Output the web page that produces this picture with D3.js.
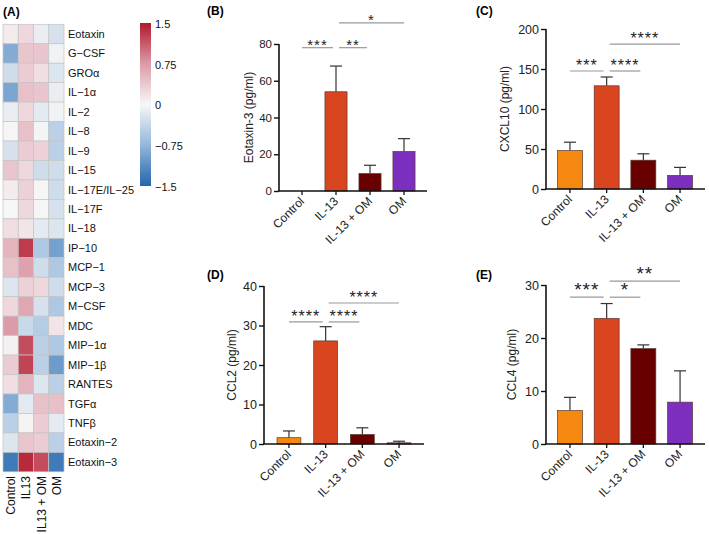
<!DOCTYPE html>
<html><head><meta charset="utf-8">
<script src="https://cdn.jsdelivr.net/npm/d3@7"></script>
<style>body{margin:0;background:#fff}svg{display:block;font-family:"Liberation Sans",Arial,sans-serif}</style>
</head><body><svg id="c" width="709" height="534"></svg>
<script>
// ---------- data ----------
const heatCols = ["Control", "IL13", "IL13 + OM", "OM"];
const heatRows = ["Eotaxin","G\u2212CSF","GRO\u03b1","IL\u22121\u03b1","IL\u22122","IL\u22128","IL\u22129","IL\u221215","IL\u221217E/IL\u221225","IL\u221217F","IL\u221218","IP\u221210","MCP\u22121","MCP\u22123","M\u2212CSF","MDC","MIP\u22121\u03b1","MIP\u22121\u03b2","RANTES","TGF\u03b1","TNF\u03b2","Eotaxin\u22122","Eotaxin\u22123"];
const heatValues = [
  [0.10, 0.25, -0.10, -0.25],
  [-0.85, 0.40, 0.40, -0.05],
  [-0.30, 0.35, 0.20, -0.20],
  [-0.90, 0.45, 0.40, -0.10],
  [-0.10, 0.25, -0.15, -0.05],
  [0.02, 0.45, -0.03, -0.45],
  [-0.25, 0.35, 0.30, -0.45],
  [0.40, 0.25, -0.30, -0.30],
  [0.10, 0.30, 0.02, -0.30],
  [0.00, 0.25, 0.02, -0.25],
  [0.20, 0.15, -0.15, -0.20],
  [0.55, 1.30, -0.55, -0.95],
  [0.45, 0.70, -0.30, -0.55],
  [-0.20, 0.30, 0.25, -0.30],
  [0.25, 0.65, -0.25, -0.55],
  [0.75, -0.35, -0.50, 0.15],
  [0.05, 1.20, -0.45, -0.55],
  [0.35, 1.25, -0.45, -1.00],
  [0.20, 0.55, -0.20, -0.45],
  [-0.85, -0.15, 0.45, 0.45],
  [-0.45, 0.03, 0.35, -0.15],
  [-0.20, 0.40, 0.35, -0.45],
  [-1.30, 1.40, 1.20, -1.30]
];
const legendTicks = [1.5, 0.75, 0, -0.75, -1.5];

const categories = ["Control", "IL-13", "IL-13 + OM", "OM"];
const barColors = ["#f5880f", "#d8451f", "#680000", "#7c2fbf"];

const eotaxin3Mean = [0, 54, 9.5, 21.5];
const eotaxin3Upper = [0, 68, 14, 28.5];
const eotaxin3Ticks = [0, 20, 40, 60, 80];
const eotaxin3Sig = [[0, 1, "***", 1], [1, 2, "**", 1], [1, 3, "*", 2]];

const cxcl10Mean = [48, 129, 36, 17];
const cxcl10Upper = [58.5, 140, 44, 27];
const cxcl10Ticks = [0, 50, 100, 150, 200];
const cxcl10Sig = [[0, 1, "***", 1], [1, 2, "****", 1], [1, 3, "****", 2]];

const ccl2Mean = [1.6, 26.1, 2.4, 0.3];
const ccl2Upper = [3.3, 29.7, 4.1, 0.7];
const ccl2Ticks = [0, 10, 20, 30, 40];
const ccl2Sig = [[0, 1, "****", 1], [1, 2, "****", 1], [1, 3, "****", 2]];

const ccl4Mean = [6.3, 23.7, 18, 7.9];
const ccl4Upper = [8.8, 26.5, 18.7, 13.8];
const ccl4Ticks = [0, 10, 20, 30];
const ccl4Sig = [[0, 1, "***", 1], [1, 2, "*", 1], [1, 3, "**", 2]];

// ---------- drawing ----------
const svg = d3.select("#c");
const FONT = "'Liberation Sans', Arial, sans-serif";

function panelLabel(t, x, y) {
  svg.append("text").attr("x", x).attr("y", y).attr("font-size", 12).attr("font-weight", "bold").text(t);
}

// Heatmap
const hx = d3.scaleBand().domain(heatCols).range([3, 64]);
const hy = d3.scaleBand().domain(heatRows).range([24.3, 471.8]);
const hColor = d3.scaleLinear().domain([-1.5, -0.75, 0, 0.75, 1.5])
  .range(["#2166ac", "#93b6da", "#f7f7f7", "#dc9ba8", "#b2182b"]).clamp(true);
const hg = svg.append("g");
heatRows.forEach((r, ri) => {
  hg.selectAll(null).data(heatCols).join("rect")
    .attr("x", d => hx(d)).attr("y", hy(r))
    .attr("width", hx.bandwidth()).attr("height", hy.bandwidth())
    .attr("fill", (d, ci) => hColor(heatValues[ri][ci]))
    .attr("stroke", "#c4c4c4").attr("stroke-width", 0.7);
});
hg.selectAll(".rl").data(heatRows).join("text")
  .attr("x", 68).attr("y", d => hy(d) + hy.bandwidth() / 2).attr("dy", "0.35em")
  .attr("font-size", 11).attr("fill", "#111").text(d => d);
hg.selectAll(".cl").data(heatCols).join("text")
  .attr("transform", d => `translate(${hx(d) + hx.bandwidth() / 2 + 4.5},476) rotate(-90)`)
  .attr("text-anchor", "end").attr("font-size", 12).attr("fill", "#111").text(d => d);
panelLabel("(A)", 3, 16);

// colour bar
const cb = d3.scaleLinear().domain([1.5, -1.5]).range([23, 186]);
const defs = svg.append("defs");
const grad = defs.append("linearGradient").attr("id", "cbg").attr("x1", 0).attr("x2", 0).attr("y1", 0).attr("y2", 1);
d3.range(0, 1.0001, 0.05).forEach(t => {
  grad.append("stop").attr("offset", t).attr("stop-color", hColor(1.5 - 3 * t));
});
svg.append("rect").attr("x", 140).attr("y", cb(1.5)).attr("width", 11).attr("height", cb(-1.5) - cb(1.5)).attr("fill", "url(#cbg)");
svg.selectAll(".lt").data(legendTicks).join("text")
  .attr("x", 155).attr("y", d => cb(d) + 1).attr("dy", "0.35em").attr("font-size", 11).attr("fill", "#111")
  .text(d => d === 0 ? "0" : (d < 0 ? "\u2212" + Math.abs(d) : String(d)));

function barPanel(cfg) {
  const g = svg.append("g");
  const x = d3.scaleBand().domain(categories).range([cfg.bandL, cfg.bandR])
    .paddingInner(cfg.pad).paddingOuter(cfg.pad / 2);
  const y = d3.scaleLinear().domain([0, cfg.max]).range([cfg.y0, cfg.yTop]);
  const cx = d => x(d) + x.bandwidth() / 2;
  // error bars
  categories.forEach((c, i) => {
    if (cfg.upper[i] > cfg.mean[i]) {
      g.append("line").attr("x1", cx(c)).attr("x2", cx(c)).attr("y1", y(cfg.mean[i])).attr("y2", y(cfg.upper[i]))
        .attr("stroke", "#333").attr("stroke-width", 1.2);
      g.append("line").attr("x1", cx(c) - 6).attr("x2", cx(c) + 6).attr("y1", y(cfg.upper[i])).attr("y2", y(cfg.upper[i]))
        .attr("stroke", "#333").attr("stroke-width", 1.2);
    }
  });
  g.selectAll(".bar").data(categories).join("rect")
    .attr("x", d => x(d)).attr("width", x.bandwidth())
    .attr("y", (d, i) => y(cfg.mean[i])).attr("height", (d, i) => y(0) - y(cfg.mean[i]))
    .attr("fill", (d, i) => barColors[i]).attr("stroke", "#5a3a30").attr("stroke-width", 0.7)
    .attr("visibility", (d, i) => cfg.mean[i] > 0 ? "visible" : "hidden");
  // y axis
  const ya = g.append("g").attr("transform", `translate(${cfg.left},0)`)
    .call(d3.axisLeft(y).tickValues(cfg.ticks).tickSize(5).tickSizeOuter(0).tickPadding(2).tickFormat(d3.format("d")));
  ya.select(".domain").attr("stroke", "#111").attr("stroke-width", 1.6).attr("d", `M0,${cfg.y0}V${cfg.yTop}`);
  ya.selectAll(".tick line").attr("stroke", "#111").attr("stroke-width", 1.4);
  ya.selectAll(".tick text").attr("font-size", cfg.tickFont).attr("font-family", FONT).attr("fill", "#222");
  // x axis
  g.append("line").attr("x1", cfg.left - 0.8).attr("x2", cfg.right).attr("y1", cfg.y0).attr("y2", cfg.y0)
    .attr("stroke", "#111").attr("stroke-width", 1.6);
  g.selectAll(".xt").data(categories).join("line")
    .attr("x1", cx).attr("x2", cx).attr("y1", cfg.y0).attr("y2", cfg.y0 + 4)
    .attr("stroke", "#111").attr("stroke-width", 1.3);
  g.selectAll(".xl").data(categories).join("text")
    .attr("transform", d => `translate(${cx(d) + 3},${cfg.y0 + 11}) rotate(-45)`)
    .attr("text-anchor", "end").attr("font-size", 12).attr("fill", "#222").text(d => d);
  // y title
  g.append("text").attr("transform", `translate(${cfg.titleX},${(cfg.y0 + cfg.yTop) / 2}) rotate(-90)`)
    .attr("text-anchor", "middle").attr("font-size", 12).attr("fill", "#222").text(cfg.title);
  // significance
  cfg.sig.forEach(([a, b, lab, lev]) => {
    const ly = y(cfg.levels[lev - 1]);
    const x1 = cx(categories[a]) + (a === 1 ? 3 : 0);
    const x2 = cx(categories[b]) - (b === a + 1 ? 3 : 0);
    g.append("line").attr("x1", x1).attr("x2", x2).attr("y1", ly).attr("y2", ly)
      .attr("stroke", "#999").attr("stroke-width", 1.2);
    g.append("text").attr("x", (x1 + x2) / 2).attr("y", ly - cfg.starGap).attr("text-anchor", "middle")
      .attr("font-size", cfg.starFont).attr("letter-spacing", 1).attr("fill", "#222").text(lab);
  });
}

panelLabel("(B)", 207, 15);
barPanel({left: 279, right: 427, bandL: 285, bandR: 421, pad: 0.35, y0: 191, yTop: 44, max: 80,
  mean: eotaxin3Mean, upper: eotaxin3Upper, ticks: eotaxin3Ticks, sig: eotaxin3Sig, levels: [78, 91.5],
  title: "Eotaxin-3 (pg/ml)", titleX: 253, tickFont: 11.5, starFont: 15, starGap: -2});

panelLabel("(C)", 476, 15);
barPanel({left: 546, right: 705, bandL: 551.6, bandR: 698.4, pad: 0.32, y0: 189, yTop: 29, max: 200,
  mean: cxcl10Mean, upper: cxcl10Upper, ticks: cxcl10Ticks, sig: cxcl10Sig, levels: [147.5, 181],
  title: "CXCL10 (pg/ml)", titleX: 509, tickFont: 12.5, starFont: 16, starGap: 0});

panelLabel("(D)", 207, 279);
barPanel({left: 264, right: 424, bandL: 270.6, bandR: 417.4, pad: 0.35, y0: 444, yTop: 286, max: 40,
  mean: ccl2Mean, upper: ccl2Upper, ticks: ccl2Ticks, sig: ccl2Sig, levels: [30.9, 35.7],
  title: "CCL2 (pg/ml)", titleX: 236, tickFont: 12.5, starFont: 16, starGap: 0});

panelLabel("(E)", 476, 279);
barPanel({left: 546, right: 705, bandL: 551.6, bandR: 698.4, pad: 0.32, y0: 444, yTop: 285, max: 30,
  mean: ccl4Mean, upper: ccl4Upper, ticks: ccl4Ticks, sig: ccl4Sig, levels: [27.7, 30.75],
  title: "CCL4 (pg/ml)", titleX: 516, tickFont: 12.5, starFont: 19, starGap: 1});
</script></body></html>
